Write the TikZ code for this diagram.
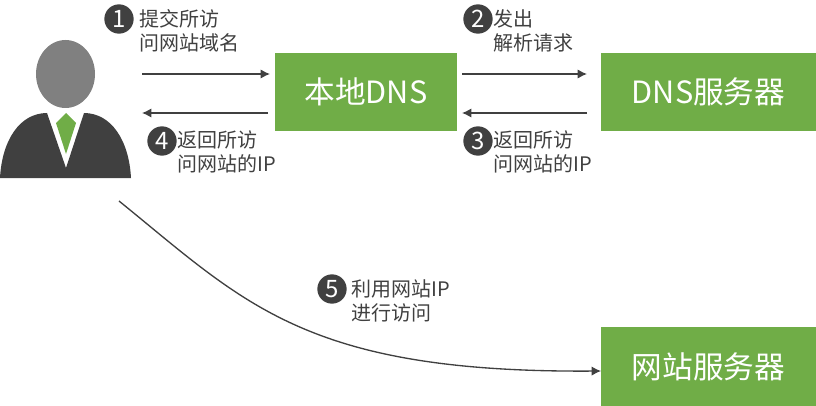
\documentclass[tikz,border=0pt]{standalone}
\usepackage{fontspec}
\setmainfont{Noto Sans CJK SC}
\usetikzlibrary{arrows.meta}
\definecolor{boxgreen}{HTML}{70AD47}
\definecolor{darkgray}{HTML}{404040}
\begin{document}
\begin{tikzpicture}[
    x=0.75pt, y=-0.75pt,
    server/.style n args={2}{
        fill=boxgreen,
        text=white,
        minimum width=#1,
        minimum height=#2,
        inner sep=0pt,
        outer sep=0pt,
        font=\fontsize{23}{27}\selectfont
    },
    badge/.style={
        circle,
        fill=darkgray,
        text=white,
        minimum size=22pt,
        inner sep=0pt,
        font=\fontsize{18}{18}\selectfont
    },
    mylabel/.style={
        anchor=west,
        align=left,
        inner sep=0pt,
        text=darkgray,
        font=\fontsize{15}{18}\selectfont
    },
    flow/.style={
        draw=darkgray,
        line width=1.1pt,
        -{Latex[length=7pt,width=7pt]}
    }
]
\useasboundingbox (0,0) rectangle (816,406);

% --- person ---
\fill[darkgray] (0,178) .. controls (2,140) and (20,113) .. (47,113)
    -- (66,168) -- (84,113)
    .. controls (111,113) and (129,140) .. (131,178) -- cycle;
\fill[gray] (65.5,74) ellipse [x radius=29.5, y radius=34];
\fill[boxgreen] (66,113) -- (76,123) -- (66,154) -- (56,123) -- cycle;

% ---- servers ----
\node[server={182*0.75pt}{78*0.75pt}] (localdns) at (366,92) {本地DNS};
\node[server={215*0.75pt}{78*0.75pt}] (dnsserver) at (708.5,92) {DNS服务器};
\node[server={215*0.75pt}{79*0.75pt}] (website) at (708.5,366.5) {网站服务器};

% ---- free ends at the person ----
\coordinate (userout) at (142,74);
\coordinate (userin) at (142,113);
\coordinate (usercurve) at (119,201);

% ---- connectors ----
\draw[flow, shorten >=3.75pt] (userout) -- (userout -| localdns.west);
\draw[flow, shorten <=5.25pt] (userin -| localdns.west) -- (userin);
\draw[flow, shorten <=3.75pt, shorten >=10.5pt] (userout -| localdns.east) -- (userout -| dnsserver.west);
\draw[flow, shorten <=10.5pt, shorten >=3.75pt] (userin -| dnsserver.west) -- (userin -| localdns.east);
\draw[flow, line width=1pt] (usercurve) .. controls (245,303) and (305,373) .. (website.west |- 0,371);

% ---- step badges ----
\node[badge] (step1) at (119,19) {1};
\node[badge] (step2) at (478,19) {2};
\node[badge] (step3) at (478,141) {3};
\node[badge] (step4) at (162,141) {4};
\node[badge] (step5) at (332,289) {5};

% ---- step labels ----
\node[mylabel] (label1) at (139,31) {提交所访\\问网站域名};
\node[mylabel] (label2) at (493,31) {发出\\解析请求};
\node[mylabel] (label3) at (493,152) {返回所访\\问网站的IP};
\node[mylabel] (label4) at (177,152) {返回所访\\问网站的IP};
\node[mylabel] (label5) at (351,301) {利用网站IP\\进行访问};

\end{tikzpicture}
\end{document}
